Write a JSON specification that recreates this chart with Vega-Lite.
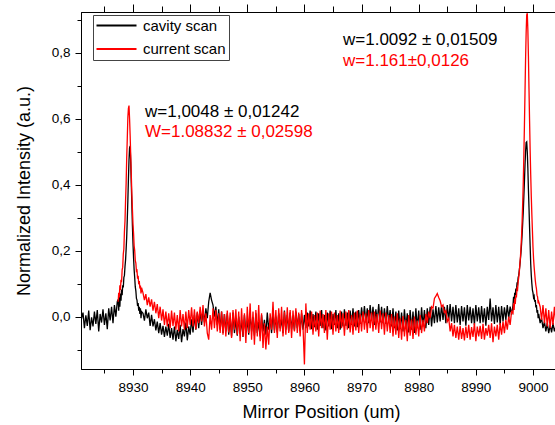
{
"$schema": "https://vega.github.io/schema/vega-lite/v6.json",
"width": 480, "height": 357,
"autosize": "none",
"padding": {"left": 81, "top": 12, "right": 0, "bottom": 56},
"background": "white",
"config": {
 "view": {"stroke": "black", "strokeWidth": 1},
 "font": "Liberation Sans",
 "locale": {"number": {"decimal": ",", "thousands": "", "grouping": [3], "currency": ["", ""]}},
 "axis": {"grid": false, "domainColor": "black", "tickColor": "black", "labelColor": "black", "titleColor": "black",
  "labelFont": "Liberation Sans", "titleFont": "Liberation Sans", "labelFontSize": 13.5, "titleFontSize": 18, "titleFontWeight": "normal",
  "labelOverlap": false, "labelFlush": false}
},
"resolve": {"axis": {"x": "independent", "y": "independent"}},
"layer": [
{
"data": {"values": [
{"x":8920.75,"a":-0.02},{"x":8921,"a":-0.005},{"x":8921.25,"a":0.012},{"x":8921.5,"a":-0.035},{"x":8921.75,"a":0.004},{"x":8922,"a":-0.028},{"x":8922.25,"a":0.018},{"x":8922.5,"a":-0.041},{"x":8922.75,"a":-0.002},{"x":8923,"a":-0.03},{"x":8923.25,"a":0.015},{"x":8923.5,"a":-0.022},{"x":8923.75,"a":0.02},{"x":8924,"a":-0.045},{"x":8924.25,"a":0.008},{"x":8924.5,"a":-0.018},{"x":8924.75,"a":0.022},{"x":8925,"a":-0.025},{"x":8925.25,"a":0.01},{"x":8925.5,"a":-0.038},{"x":8925.75,"a":0.025},{"x":8926,"a":-0.012},{"x":8926.25,"a":0.03},{"x":8926.5,"a":-0.02},{"x":8926.75,"a":0.035},{"x":8927,"a":0.0},{"x":8927.25,"a":0.045},
{"x":8927.4,"a":0.052,"b":0.045},{"x":8927.5,"a":0.018,"b":0.072},{"x":8927.6,"a":0.061,"b":0.058},{"x":8927.7,"a":0.03,"b":0.095},{"x":8927.8,"a":0.07,"b":0.081},{"x":8927.9,"a":0.048,"b":0.112},{"x":8928.0,"a":0.082,"b":0.104},{"x":8928.1,"a":0.065,"b":0.142},{"x":8928.2,"a":0.095,"b":0.15},{"x":8928.3,"a":0.088,"b":0.19},{"x":8928.4,"a":0.118,"b":0.205},{"x":8928.5,"a":0.125,"b":0.258},{"x":8928.6,"a":0.152,"b":0.29},{"x":8928.7,"a":0.172,"b":0.352},{"x":8928.8,"a":0.205,"b":0.405},{"x":8928.9,"a":0.242,"b":0.482},{"x":8929.0,"a":0.295,"b":0.54},{"x":8929.1,"a":0.352,"b":0.605},{"x":8929.2,"a":0.418,"b":0.632},{"x":8929.3,"a":0.475,"b":0.64},{"x":8929.4,"a":0.512,"b":0.6},{"x":8929.5,"a":0.518,"b":0.55},{"x":8929.6,"a":0.47,"b":0.49},{"x":8929.7,"a":0.405,"b":0.43},{"x":8929.8,"a":0.34,"b":0.37},{"x":8929.9,"a":0.275,"b":0.325},{"x":8930.0,"a":0.222,"b":0.28},{"x":8930.1,"a":0.178,"b":0.252},{"x":8930.2,"a":0.142,"b":0.215},{"x":8930.3,"a":0.118,"b":0.2},{"x":8930.4,"a":0.09,"b":0.17},{"x":8930.5,"a":0.078,"b":0.162},{"x":8930.6,"a":0.055,"b":0.138},{"x":8930.7,"a":0.05,"b":0.14},{"x":8930.8,"a":0.032,"b":0.115},{"x":8930.9,"a":0.041,"b":0.124},{"x":8931.0,"a":0.018,"b":0.098},{"x":8931.1,"a":0.03,"b":0.108},{"x":8931.2,"a":0.008,"b":0.085},{"x":8931.3,"a":0.025,"b":0.094},{"x":8931.4,"a":-0.005,"b":0.07},{"x":8931.5,"a":0.015,"b":0.088},
{"x":8931.75,"a":0.01,"b":0.072},{"x":8932,"a":-0.012,"b":0.05},{"x":8932.25,"a":0.022,"b":0.068},{"x":8932.5,"a":-0.005,"b":0.035},{"x":8932.75,"a":0.012,"b":0.058},{"x":8933,"a":-0.028,"b":0.03},{"x":8933.25,"a":0.005,"b":0.052},{"x":8933.5,"a":-0.03,"b":0.018},{"x":8933.75,"a":-0.008,"b":0.045},{"x":8934,"a":-0.042,"b":0.01},{"x":8934.25,"a":-0.015,"b":0.038},{"x":8934.5,"a":-0.05,"b":-0.005},{"x":8934.75,"a":-0.02,"b":0.03},{"x":8935,"a":-0.055,"b":-0.012},{"x":8935.25,"a":-0.028,"b":0.022},{"x":8935.5,"a":-0.062,"b":-0.025},{"x":8935.75,"a":-0.03,"b":0.015},{"x":8936,"a":-0.058,"b":-0.03},{"x":8936.25,"a":-0.022,"b":0.01},{"x":8936.5,"a":-0.065,"b":-0.035},{"x":8936.75,"a":-0.035,"b":0.018},{"x":8937,"a":-0.07,"b":-0.028},{"x":8937.25,"a":-0.03,"b":0.012},{"x":8937.5,"a":-0.075,"b":-0.04},{"x":8937.75,"a":-0.04,"b":0.005},{"x":8938,"a":-0.068,"b":-0.045},{"x":8938.25,"a":-0.025,"b":0.02},{"x":8938.5,"a":-0.078,"b":-0.03},{"x":8938.75,"a":-0.038,"b":0.008},{"x":8939,"a":-0.06,"b":-0.04},{"x":8939.25,"a":-0.018,"b":0.015},{"x":8939.5,"a":-0.072,"b":-0.035},{"x":8939.75,"a":-0.03,"b":0.02},{"x":8940,"a":-0.055,"b":-0.025},{"x":8940.25,"a":-0.008,"b":0.028},{"x":8940.5,"a":-0.048,"b":-0.03},{"x":8940.75,"a":0.005,"b":0.022},{"x":8941,"a":-0.04,"b":-0.038},{"x":8941.25,"a":0.012,"b":0.015},{"x":8941.5,"a":-0.035,"b":-0.02},{"x":8941.75,"a":0.018,"b":0.03},{"x":8942,"a":-0.025,"b":-0.015},{"x":8942.25,"a":0.02,"b":0.035},{"x":8942.5,"a":-0.018,"b":-0.03},{"x":8942.75,"a":0.025,"b":0.01},{"x":8943,"a":-0.005,"b":-0.05},{"x":8943.25,"a":0.045,"b":-0.07},{"x":8943.5,"a":0.072,"b":0.005},{"x":8943.75,"a":0.05,"b":-0.04},{"x":8944,"a":0.035,"b":0.025},{"x":8944.25,"a":0.0,"b":-0.035},{"x":8944.5,"a":0.03,"b":0.02},{"x":8944.75,"a":-0.025,"b":-0.045},{"x":8945,"a":0.022,"b":0.01},{"x":8945.25,"a":-0.04,"b":-0.05},{"x":8945.5,"a":0.015,"b":0.015},{"x":8945.75,"a":-0.05,"b":-0.055},{"x":8946,"a":0.008,"b":0.008},{"x":8946.25,"a":-0.045,"b":-0.06},{"x":8946.5,"a":0.01,"b":0.018},{"x":8946.75,"a":-0.055,"b":-0.048},{"x":8947,"a":-0.005,"b":0.012},{"x":8947.25,"a":-0.06,"b":-0.065},{"x":8947.5,"a":0.012,"b":0.02},{"x":8947.75,"a":-0.05,"b":-0.04},{"x":8948,"a":-0.008,"b":0.022},{"x":8948.25,"a":-0.058,"b":-0.055},{"x":8948.5,"a":0.0,"b":0.015},{"x":8948.75,"a":-0.052,"b":-0.075},{"x":8949,"a":-0.01,"b":0.025},{"x":8949.25,"a":-0.062,"b":-0.06},{"x":8949.5,"a":0.005,"b":0.01},{"x":8949.75,"a":-0.048,"b":-0.08},{"x":8950,"a":-0.012,"b":0.03},{"x":8950.25,"a":-0.055,"b":-0.05},{"x":8950.5,"a":0.008,"b":0.04},{"x":8950.75,"a":-0.045,"b":-0.07},{"x":8951,"a":-0.002,"b":0.015},{"x":8951.25,"a":-0.058,"b":-0.085},{"x":8951.5,"a":0.01,"b":0.02},{"x":8951.75,"a":-0.05,"b":-0.06},{"x":8952,"a":-0.015,"b":0.035},{"x":8952.25,"a":-0.06,"b":-0.075},{"x":8952.5,"a":0.005,"b":0.01},{"x":8952.75,"a":-0.045,"b":-0.095},{"x":8953,"a":-0.01,"b":-0.02},{"x":8953.25,"a":-0.055,"b":-0.1},{"x":8953.5,"a":0.012,"b":-0.03},{"x":8953.75,"a":-0.04,"b":-0.085},{"x":8954,"a":-0.005,"b":0.01},{"x":8954.25,"a":-0.05,"b":-0.04},{"x":8954.5,"a":0.015,"b":0.045},{"x":8954.75,"a":-0.042,"b":-0.05},{"x":8955,"a":0.0,"b":0.02},{"x":8955.25,"a":-0.048,"b":-0.065},{"x":8955.5,"a":0.01,"b":0.025},{"x":8955.75,"a":-0.035,"b":-0.045},{"x":8956,"a":-0.008,"b":0.03},{"x":8956.25,"a":-0.05,"b":-0.06},{"x":8956.5,"a":0.018,"b":0.015},{"x":8956.75,"a":-0.04,"b":-0.055},{"x":8957,"a":0.005,"b":0.028},{"x":8957.25,"a":-0.045,"b":-0.05},{"x":8957.5,"a":0.012,"b":0.02},{"x":8957.75,"a":-0.038,"b":-0.065},{"x":8958,"a":0.0,"b":0.018},{"x":8958.25,"a":-0.042,"b":-0.045},{"x":8958.5,"a":0.015,"b":0.025},{"x":8958.75,"a":-0.035,"b":-0.05},{"x":8959,"a":0.008,"b":0.012},{"x":8959.25,"a":-0.045,"b":-0.06},{"x":8959.5,"a":0.01,"b":0.02},{"x":8959.75,"a":-0.04,"b":-0.03},{"x":8960,"a":0.005,"b":-0.145},{"x":8960.25,"a":-0.035,"b":0.04},{"x":8960.5,"a":0.012,"b":-0.05},{"x":8960.75,"a":-0.03,"b":0.01},{"x":8961,"a":0.018,"b":-0.04},{"x":8961.25,"a":-0.038,"b":0.015},{"x":8961.5,"a":0.008,"b":-0.055},{"x":8961.75,"a":-0.032,"b":0.005},{"x":8962,"a":0.015,"b":-0.045},{"x":8962.25,"a":-0.04,"b":0.012},{"x":8962.5,"a":0.01,"b":-0.06},{"x":8962.75,"a":-0.028,"b":0.018},{"x":8963,"a":0.02,"b":-0.035},{"x":8963.25,"a":-0.035,"b":0.008},{"x":8963.5,"a":0.005,"b":-0.05},{"x":8963.75,"a":-0.042,"b":0.02},{"x":8964,"a":0.012,"b":-0.07},{"x":8964.25,"a":-0.03,"b":0.01},{"x":8964.5,"a":0.018,"b":-0.04},{"x":8964.75,"a":-0.038,"b":0.015},{"x":8965,"a":0.008,"b":-0.055},{"x":8965.25,"a":-0.025,"b":0.012},{"x":8965.5,"a":0.02,"b":-0.045},{"x":8965.75,"a":-0.035,"b":0.005},{"x":8966,"a":0.01,"b":-0.05},{"x":8966.25,"a":-0.04,"b":0.018},{"x":8966.5,"a":0.015,"b":-0.035},{"x":8966.75,"a":-0.03,"b":0.01},{"x":8967,"a":0.022,"b":-0.058},{"x":8967.25,"a":-0.028,"b":0.015},{"x":8967.5,"a":0.012,"b":-0.04},{"x":8967.75,"a":-0.035,"b":0.02},{"x":8968,"a":0.018,"b":-0.048},{"x":8968.25,"a":-0.025,"b":0.005},{"x":8968.5,"a":0.025,"b":-0.055},{"x":8968.75,"a":-0.03,"b":0.012},{"x":8969,"a":0.015,"b":-0.042},{"x":8969.25,"a":-0.032,"b":0.018},{"x":8969.5,"a":0.02,"b":-0.05},{"x":8969.75,"a":-0.022,"b":0.008},{"x":8970,"a":0.028,"b":-0.045},{"x":8970.25,"a":-0.015,"b":0.015},{"x":8970.5,"a":0.032,"b":-0.04},{"x":8970.75,"a":-0.018,"b":0.01},{"x":8971,"a":0.025,"b":-0.05},{"x":8971.25,"a":-0.02,"b":0.02},{"x":8971.5,"a":0.035,"b":-0.035},{"x":8971.75,"a":-0.012,"b":0.012},{"x":8972,"a":0.03,"b":-0.045},{"x":8972.25,"a":-0.025,"b":0.015},{"x":8972.5,"a":0.022,"b":-0.04},{"x":8972.75,"a":-0.015,"b":0.008},{"x":8973,"a":0.038,"b":-0.05},{"x":8973.25,"a":-0.018,"b":0.018},{"x":8973.5,"a":0.03,"b":-0.038},{"x":8973.75,"a":-0.02,"b":0.01},{"x":8974,"a":0.025,"b":-0.055},{"x":8974.25,"a":-0.022,"b":0.012},{"x":8974.5,"a":0.032,"b":-0.045},{"x":8974.75,"a":-0.015,"b":0.005},{"x":8975,"a":0.02,"b":-0.05},{"x":8975.25,"a":-0.03,"b":0.008},{"x":8975.5,"a":0.025,"b":-0.06},{"x":8975.75,"a":-0.035,"b":0.0},{"x":8976,"a":0.015,"b":-0.055},{"x":8976.25,"a":-0.042,"b":0.01},{"x":8976.5,"a":0.018,"b":-0.065},{"x":8976.75,"a":-0.038,"b":-0.005},{"x":8977,"a":0.012,"b":-0.07},{"x":8977.25,"a":-0.045,"b":0.002},{"x":8977.5,"a":0.022,"b":-0.06},{"x":8977.75,"a":-0.035,"b":-0.01},{"x":8978,"a":0.01,"b":-0.075},{"x":8978.25,"a":-0.048,"b":0.005},{"x":8978.5,"a":0.02,"b":-0.058},{"x":8978.75,"a":-0.04,"b":-0.008},{"x":8979,"a":0.015,"b":-0.068},{"x":8979.25,"a":-0.05,"b":0.0},{"x":8979.5,"a":0.025,"b":-0.055},{"x":8979.75,"a":-0.035,"b":-0.012},{"x":8980,"a":0.018,"b":-0.06},{"x":8980.25,"a":-0.04,"b":0.005},{"x":8980.5,"a":0.028,"b":-0.05},{"x":8980.75,"a":-0.03,"b":-0.01},{"x":8981,"a":0.02,"b":-0.045},{"x":8981.25,"a":-0.035,"b":0.008},{"x":8981.5,"a":0.025,"b":-0.02},{"x":8981.75,"a":-0.025,"b":0.015},{"x":8982,"a":0.03,"b":-0.005},{"x":8982.25,"a":-0.03,"b":0.03},{"x":8982.5,"a":0.022,"b":0.025},{"x":8982.75,"a":-0.02,"b":0.055},{"x":8983,"a":0.032,"b":0.062},{"x":8983.25,"a":-0.018,"b":0.07},{"x":8983.5,"a":0.028,"b":0.058},{"x":8983.75,"a":-0.015,"b":0.048},{"x":8984,"a":0.035,"b":0.03},{"x":8984.25,"a":-0.01,"b":0.035},{"x":8984.5,"a":0.03,"b":0.012},{"x":8984.75,"a":-0.02,"b":0.018},{"x":8985,"a":0.035,"b":-0.015},{"x":8985.25,"a":-0.012,"b":-0.005},{"x":8985.5,"a":0.038,"b":-0.045},{"x":8985.75,"a":-0.015,"b":-0.02},{"x":8986,"a":0.03,"b":-0.06},{"x":8986.25,"a":-0.02,"b":-0.025},{"x":8986.5,"a":0.035,"b":-0.065},{"x":8986.75,"a":-0.018,"b":-0.03},{"x":8987,"a":0.025,"b":-0.07},{"x":8987.25,"a":-0.025,"b":-0.028},{"x":8987.5,"a":0.032,"b":-0.068},{"x":8987.75,"a":-0.015,"b":-0.035},{"x":8988,"a":0.028,"b":-0.072},{"x":8988.25,"a":-0.028,"b":-0.03},{"x":8988.5,"a":0.035,"b":-0.065},{"x":8988.75,"a":-0.012,"b":-0.025},{"x":8989,"a":0.03,"b":-0.07},{"x":8989.25,"a":-0.02,"b":-0.032},{"x":8989.5,"a":0.025,"b":-0.062},{"x":8989.75,"a":-0.025,"b":-0.02},{"x":8990,"a":0.035,"b":-0.075},{"x":8990.25,"a":-0.015,"b":-0.03},{"x":8990.5,"a":0.028,"b":-0.06},{"x":8990.75,"a":-0.02,"b":-0.028},{"x":8991,"a":0.032,"b":-0.068},{"x":8991.25,"a":-0.018,"b":-0.022},{"x":8991.5,"a":0.025,"b":-0.07},{"x":8991.75,"a":-0.028,"b":-0.035},{"x":8992,"a":0.03,"b":-0.058},{"x":8992.25,"a":-0.01,"b":-0.025},{"x":8992.5,"a":0.055,"b":-0.065},{"x":8992.75,"a":-0.015,"b":-0.02},{"x":8993,"a":0.028,"b":-0.078},{"x":8993.25,"a":-0.022,"b":-0.03},{"x":8993.5,"a":0.035,"b":-0.06},{"x":8993.75,"a":-0.018,"b":-0.025},{"x":8994,"a":0.03,"b":-0.07},{"x":8994.25,"a":-0.025,"b":-0.02},{"x":8994.5,"a":0.032,"b":-0.055},{"x":8994.75,"a":-0.015,"b":-0.015},{"x":8995,"a":0.028,"b":-0.05},{"x":8995.25,"a":-0.01,"b":-0.01},{"x":8995.5,"a":0.035,"b":-0.04},{"x":8995.75,"a":-0.005,"b":0.0},{"x":8996,"a":0.03,"b":-0.025},{"x":8996.25,"a":0.005,"b":0.015},
{"x":8996.5,"a":0.035,"b":0.01},{"x":8996.6,"a":0.06,"b":0.04},{"x":8996.7,"a":0.042,"b":0.02},{"x":8996.8,"a":0.072,"b":0.055},{"x":8996.9,"a":0.065,"b":0.038},{"x":8997.0,"a":0.085,"b":0.065},{"x":8997.1,"a":0.078,"b":0.058},{"x":8997.2,"a":0.1,"b":0.085},{"x":8997.3,"a":0.098,"b":0.082},{"x":8997.4,"a":0.118,"b":0.105},{"x":8997.5,"a":0.125,"b":0.118},{"x":8997.6,"a":0.14,"b":0.135},{"x":8997.7,"a":0.155,"b":0.158},{"x":8997.8,"a":0.175,"b":0.18},{"x":8997.9,"a":0.195,"b":0.21},{"x":8998.0,"a":0.22,"b":0.245},{"x":8998.1,"a":0.25,"b":0.29},{"x":8998.2,"a":0.285,"b":0.345},{"x":8998.3,"a":0.32,"b":0.41},{"x":8998.4,"a":0.365,"b":0.49},{"x":8998.5,"a":0.41,"b":0.58},{"x":8998.6,"a":0.46,"b":0.68},{"x":8998.7,"a":0.5,"b":0.78},{"x":8998.8,"a":0.528,"b":0.86},{"x":8998.9,"a":0.53,"b":0.915},{"x":8999.0,"a":0.5,"b":0.92},{"x":8999.1,"a":0.45,"b":0.87},{"x":8999.2,"a":0.385,"b":0.79},{"x":8999.3,"a":0.33,"b":0.69},{"x":8999.4,"a":0.27,"b":0.595},{"x":8999.5,"a":0.215,"b":0.505},{"x":8999.6,"a":0.16,"b":0.43},{"x":8999.7,"a":0.125,"b":0.365},{"x":8999.8,"a":0.1,"b":0.31},{"x":8999.9,"a":0.08,"b":0.26},{"x":9000.0,"a":0.072,"b":0.21},{"x":9000.1,"a":0.058,"b":0.175},{"x":9000.2,"a":0.062,"b":0.15},{"x":9000.3,"a":0.045,"b":0.13},{"x":9000.4,"a":0.05,"b":0.11},{"x":9000.5,"a":0.028,"b":0.095},{"x":9000.6,"a":0.035,"b":0.085},{"x":9000.7,"a":0.012,"b":0.065},{"x":9000.8,"a":0.02,"b":0.06},{"x":9000.9,"a":-0.005,"b":0.04},{"x":9001.0,"a":0.008,"b":0.045},
{"x":9001.25,"a":-0.02,"b":0.03},{"x":9001.5,"a":-0.005,"b":-0.01},{"x":9001.75,"a":-0.035,"b":0.035},{"x":9002,"a":-0.015,"b":-0.02},{"x":9002.25,"a":-0.045,"b":0.025},{"x":9002.5,"a":-0.02,"b":-0.03},{"x":9002.75,"a":-0.05,"b":0.02},{"x":9003,"a":-0.025,"b":-0.035},{"x":9003.25,"a":-0.048,"b":0.015},{"x":9003.5,"a":-0.02,"b":-0.025},{"x":9003.75,"a":-0.045,"b":0.03},{"x":9004,"a":-0.03,"b":-0.02},{"x":9004.25,"a":-0.05,"b":0.01}
]},
"transform": [{"fold": ["a", "b"], "as": ["s", "v"]}],
"mark": {"type": "line", "strokeWidth": 1.3, "clip": true},
"encoding": {
"x": {"field": "x", "type": "quantitative",
 "scale": {"domain": [8920.9, 9004.9], "nice": false, "zero": false},
 "axis": {"orient": "bottom", "values": [8930,8940,8950,8960,8970,8980,8990,9000], "format": "d", "tickSize": 6, "labelPadding": 5,
  "title": "Mirror Position (um)", "titlePadding": 10}},
"y": {"field": "v", "type": "quantitative",
 "scale": {"domain": [-0.159, 0.924], "nice": false, "zero": false},
 "axis": {"orient": "left", "values": [0, 0.2, 0.4, 0.6, 0.8], "format": ".1f", "tickSize": 6, "labelPadding": 5,
  "title": "Normalized Intensity (a.u.)", "titlePadding": 18}},
"color": {"field": "s", "type": "nominal",
 "scale": {"domain": ["a", "b"], "range": ["#000000", "#ff0000"]},
 "legend": {"orient": "none", "legendX": 12, "legendY": 3, "title": null,
  "symbolType": "M-1.4,0H6.6", "symbolSize": 100, "symbolStrokeWidth": 2, "symbolFillColor": "transparent",
  "labelFont": "Liberation Sans", "labelFontSize": 15, "labelColor": "black", "labelOffset": 32,
  "strokeColor": "#444444", "fillColor": "white", "padding": 3, "rowPadding": 7.5,
  "labelExpr": "datum.label == 'a' ? 'cavity scan\u00a0\u00a0' : 'current scan\u00a0\u00a0'"}}
}
},
{
"data": {"values": [
{"x": 8932.1, "y": 0.6195, "t": "w=1,0048 ± 0,01242"}
]},
"mark": {"type": "text", "align": "left", "baseline": "middle", "fontSize": 17, "font": "Liberation Sans", "color": "#000000"},
"encoding": {
"x": {"field": "x", "type": "quantitative",
 "axis": {"orient": "top", "values": [8925,8935,8945,8955,8965,8975,8985,8995], "labels": false, "title": null, "tickSize": 6}},
"y": {"field": "y", "type": "quantitative", "axis": null},
"text": {"field": "t"}
}
},
{
"data": {"values": [
{"x": 8966.75, "y": 0.8395, "t": "w=1.0092 ± 0,01509"}
]},
"mark": {"type": "text", "align": "left", "baseline": "middle", "fontSize": 17, "font": "Liberation Sans", "color": "#000000"},
"encoding": {
"x": {"field": "x", "type": "quantitative",
 "axis": {"orient": "bottom", "values": [8925,8935,8945,8955,8965,8975,8985,8995], "labels": false, "title": null, "domain": false, "tickSize": 4}},
"y": {"field": "y", "type": "quantitative",
 "axis": {"orient": "left", "values": [-0.1, 0.1, 0.3, 0.5, 0.7, 0.9], "labels": false, "title": null, "domain": false, "tickSize": 4}},
"text": {"field": "t"}
}
},
{
"data": {"values": [
{"x": 8932.1, "y": 0.559, "t": "W=1.08832 ± 0,02598"},
{"x": 8966.75, "y": 0.776, "t": "w=1.161±0,0126"}
]},
"mark": {"type": "text", "align": "left", "baseline": "middle", "fontSize": 17, "font": "Liberation Sans", "color": "#ff0000"},
"encoding": {
"x": {"field": "x", "type": "quantitative",
 "axis": {"orient": "top", "values": [8930,8940,8950,8960,8970,8980,8990,9000], "labels": false, "title": null, "domain": false, "tickSize": 8}},
"y": {"field": "y", "type": "quantitative", "axis": null},
"text": {"field": "t"}
}
}
]
}
